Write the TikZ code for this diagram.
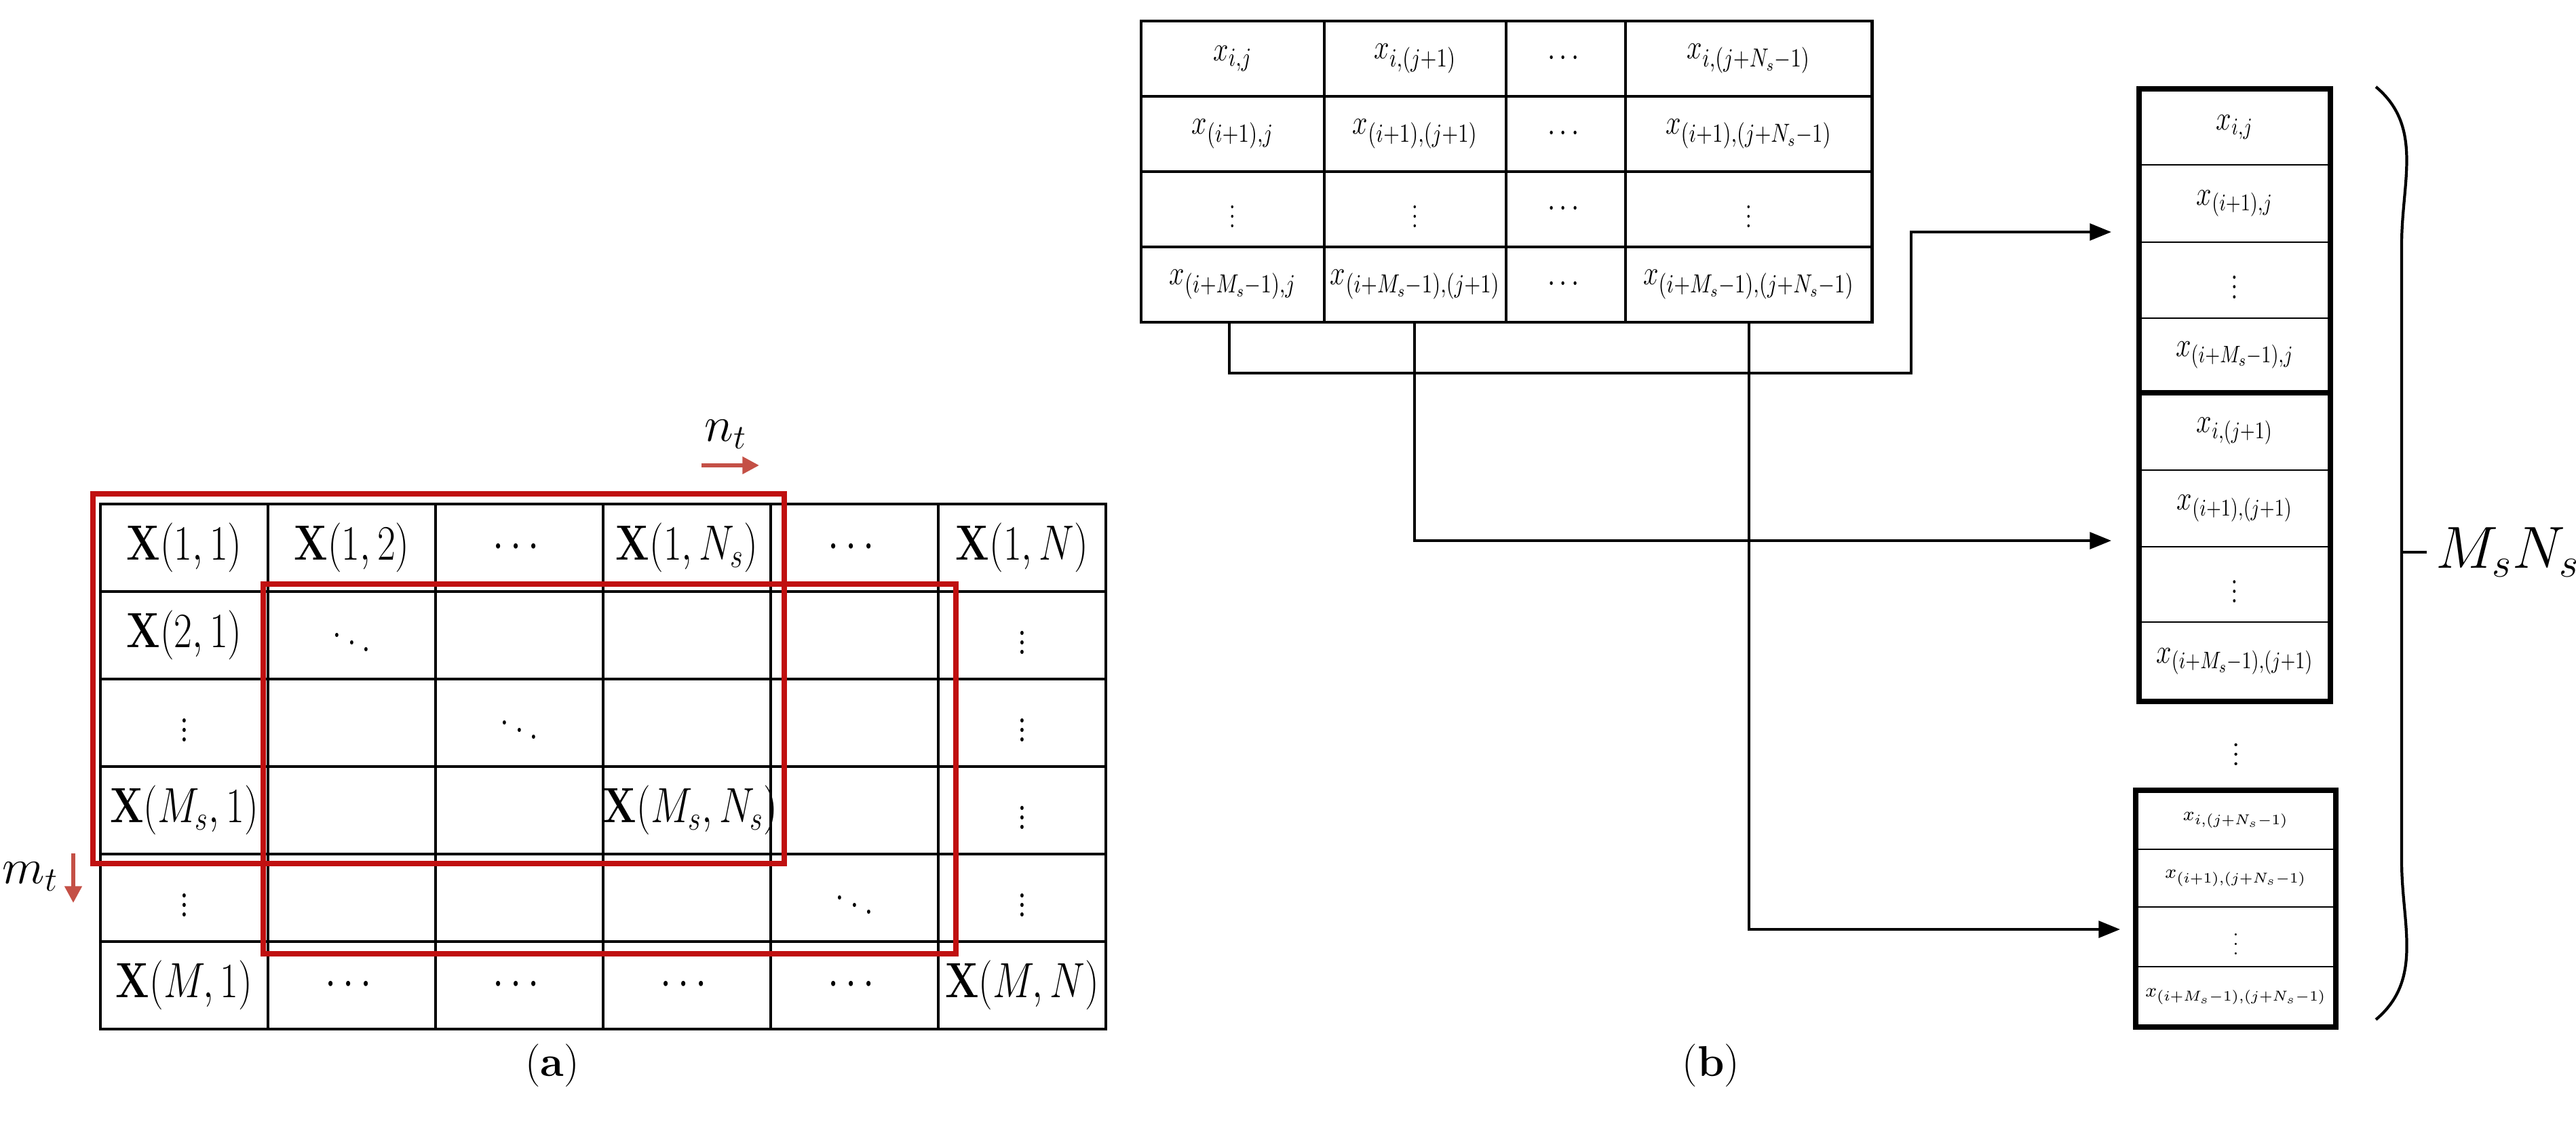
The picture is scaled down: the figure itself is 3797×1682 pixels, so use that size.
\documentclass[tikz,border=0pt]{standalone}
\usepackage{amsmath}
\usepackage{graphicx}
\usetikzlibrary{arrows.meta}
\definecolor{cred}{RGB}{192,16,16}
\definecolor{carrow}{RGB}{196,80,70}
\newcommand{\sqz}[1]{\scalebox{0.8}[1]{$#1$}}
\tikzset{
  gcell/.style={draw,line width=1.2pt,text width=2.47cm,align=center,minimum height=1.29cm,inner sep=0pt,font=\fontsize{21}{24}\selectfont},
  tcell/.style={draw,line width=1.4pt,align=center,minimum height=1.11cm,inner sep=0pt,font=\fontsize{15}{18}\selectfont},
  vcell/.style={draw,line width=0.6pt,align=center,inner sep=0pt,font=\fontsize{14}{16}\selectfont},
  link/.style={line width=1.1pt},
  tip/.style={-{Triangle[length=9pt,width=7pt]}}
}
\begin{document}
\begin{tikzpicture}[x=0.01cm,y=-0.01cm]
\useasboundingbox (0,0) rectangle (3797,1682);

%%% (a) the big matrix
\foreach \c/\r/\t/\n in {1/1/{\mathbf{X}(1,1)}/a11, 2/1/{\mathbf{X}(1,2)}/a12, 3/1/{\cdots}/a13, 4/1/{\mathbf{X}(1,N_s)}/a14, 5/1/{\cdots}/a15, 6/1/{\mathbf{X}(1,N)}/a16,
  1/2/{\mathbf{X}(2,1)}/a21, 2/2/{\ddots}/a22, 3/2/{}/a23, 4/2/{}/a24, 5/2/{}/a25, 6/2/{\vdots}/a26,
  1/3/{\vdots}/a31, 2/3/{}/a32, 3/3/{\ddots}/a33, 4/3/{}/a34, 5/3/{}/a35, 6/3/{\vdots}/a36,
  1/4/{\mathbf{X}(M_s,1)}/a41, 2/4/{}/a42, 3/4/{}/a43, 4/4/{\mathbf{X}(M_s,N_s)}/a44, 5/4/{}/a45, 6/4/{\vdots}/a46,
  1/5/{\vdots}/a51, 2/5/{}/a52, 3/5/{}/a53, 4/5/{}/a54, 5/5/{\ddots}/a55, 6/5/{\vdots}/a56,
  1/6/{\mathbf{X}(M,1)}/a61, 2/6/{\cdots}/a62, 3/6/{\cdots}/a63, 4/6/{\cdots}/a64, 5/6/{\cdots}/a65, 6/6/{\mathbf{X}(M,N)}/a66}
  \node[gcell] (\n) at ({148+247*(\c-0.5)},{743+129*(\r-0.5)}) {\sqz{\t}};

%%% red sliding windows
\draw[cred,line width=2.4pt] (137,728) rectangle (1156,1273);
\draw[cred,line width=2.4pt] (388,861) rectangle (1409,1406);

\coordinate (ns) at (1034,686);
\coordinate (ne) at (1119,686);
\draw[carrow,line width=1.6pt,-{Triangle[length=7pt,width=7pt]}] (ns) -- (ne);
\node[font=\fontsize{20}{24}\selectfont] (nt) at (1070,640) {$n_t$};
\coordinate (ms) at (108,1258);
\coordinate (me) at (108,1331);
\draw[carrow,line width=1.6pt,-{Triangle[length=7pt,width=7pt]}] (ms) -- (me);
\node[font=\fontsize{20}{24}\selectfont] (mt) at (45,1292) {$m_t$};

\node[font=\fontsize{18}{22}\selectfont] (capa) at (814,1571) {(\textbf{a})};
\node[font=\fontsize{18}{22}\selectfont] (capb) at (2522,1571) {(\textbf{b})};

%%% (b) the window
\foreach \x/\w/\c/\ta/\tb/\tc/\td in {
  1817/270/1/{x_{i,j}}/{x_{(i+1),j}}/{\vdots}/{x_{(i+M_s-1),j}},
  2086/268/2/{x_{i,(j+1)}}/{x_{(i+1),(j+1)}}/{\vdots}/{x_{(i+M_s-1),(j+1)}},
  2308/176/3/{\cdots}/{\cdots}/{\cdots}/{\cdots},
  2577.5/363/4/{x_{i,(j+N_s-1)}}/{x_{(i+1),(j+N_s-1)}}/{\vdots}/{x_{(i+M_s-1),(j+N_s-1)}}}
{
  \node[tcell,text width=\w*0.01cm] (t1\c) at (\x,86.5) {\sqz{\ta}};
  \node[tcell,text width=\w*0.01cm] (t2\c) at (\x,197.5) {\sqz{\tb}};
  \node[tcell,text width=\w*0.01cm] (t3\c) at (\x,308.5) {\sqz{\tc}};
  \node[tcell,text width=\w*0.01cm] (t4\c) at (\x,419.5) {\sqz{\td}};
}

%%% (b) the stacked column
\foreach \y/\h/\t/\n in {187.5/111/{x_{i,j}}/b1, 300/114/{x_{(i+1),j}}/b2, 413/112/{\vdots}/b3, 523.5/109/{x_{(i+M_s-1),j}}/b4,
  635.5/115/{x_{i,(j+1)}}/b5, 749.5/113/{x_{(i+1),(j+1)}}/b6, 861.5/111/{\vdots}/b7, 975/116/{x_{(i+M_s-1),(j+1)}}/b8}
  \node[vcell,text width=2.8cm,minimum height=\h*0.01cm] (\n) at (3294,\y) {\sqz{\t}};
\foreach \y/\h/\t/\n in {1209/86/{x_{i,(j+N_s-1)}}/c1, 1294.5/85/{x_{(i+1),(j+N_s-1)}}/c2, 1381/88/{\vdots}/c3, 1469/88/{x_{(i+M_s-1),(j+N_s-1)}}/c4}
  \node[vcell,font=\footnotesize,text width=2.93cm,minimum height=\h*0.01cm] (\n) at (3295.5,\y) {$\t$};
\draw[line width=2.4pt] (b1.north west) rectangle (b8.south east);
\draw[line width=2.4pt] (b4.south west) -- (b4.south east);
\draw[line width=2.4pt] (c1.north west) rectangle (c4.south east);
\node[font=\fontsize{15}{18}\selectfont] (cdots) at (3296,1102) {$\vdots$};

%%% connectors
\coordinate (k1) at (2817,550);
\coordinate (e1) at (3112,342);
\coordinate (e2) at (3112,797);
\coordinate (e3) at (3125,1370);
\draw[link,tip] (t41.south -| 1812,0) |- (k1) |- (e1);
\draw[link,tip] (t42.south -| 2085,0) |- (e2);
\draw[link,tip] (t44.south -| 2578,0) |- (e3);

%%% bracket
\coordinate (bt) at (3502,128);
\coordinate (bb) at (3502,1503);
\coordinate (bm) at (3540,814);
\draw[line width=1.2pt] (bt) to[out=-40,in=90] (3540,360) -- (3540,1270) to[out=-90,in=40] (bb);
\draw[line width=1.2pt] (bm) -- ++(37,0) node[right,font=\fontsize{23}{27}\selectfont] (mn) {$M_sN_s$};
\end{tikzpicture}
\end{document}
